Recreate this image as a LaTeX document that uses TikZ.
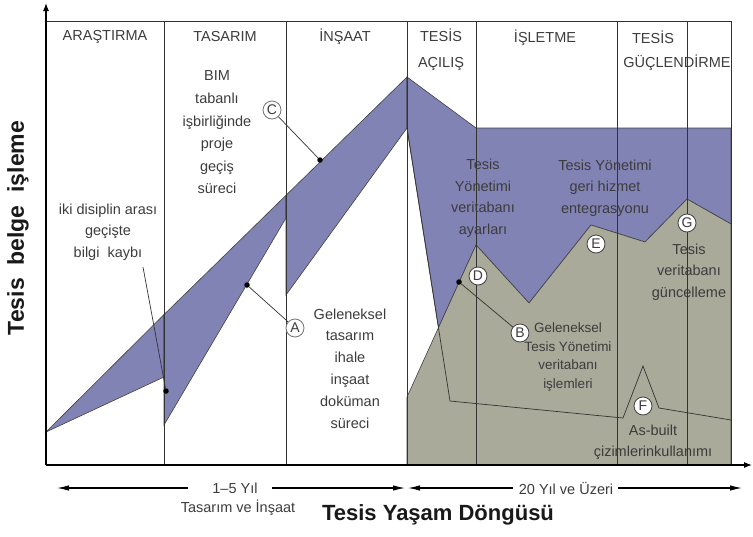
\documentclass[tikz,border=0pt]{standalone}
\usepackage{fontspec}
\setmainfont{Liberation Sans}
\usepackage{tikz}
\usetikzlibrary{arrows.meta, positioning}
\definecolor{lcBand}{HTML}{8283B5}
\definecolor{lcFm}{HTML}{A9AA9A}
\definecolor{lcText}{HTML}{3C3C3C}

\begin{document}
\begin{tikzpicture}[x=1pt, y=-1pt,
  phase/.style={font=\fontsize{14.5}{26}\selectfont, text=lcText, align=center, inner sep=0pt},
  txt/.style={font=\fontsize{14.5}{21.5}\selectfont, text=lcText, align=center, inner sep=0pt},
  tag/.style={circle, draw=black!75, fill=white, line width=0.8pt, inner sep=0pt,
              minimum size=18pt, font=\fontsize{14}{14}\selectfont, text=lcText},
  softtag/.style={tag, draw=black!55},
  dot/.style={circle, fill=black, inner sep=0pt, minimum size=5.5pt},
  lead/.style={draw=black!80, line width=0.7pt},
  band/.style={fill=lcBand, draw=black!75, line width=0.6pt},
  fm/.style={fill=lcFm, draw=black!75, line width=0.6pt},
  grid/.style={draw=black!80, line width=0.9pt},
  axis/.style={-{Latex[length=8pt,width=6pt]}, line width=1.1pt},
  span/.style={-{Latex[length=12pt,width=5.5pt]}, line width=1.1pt}
]
  \useasboundingbox (0,0) rectangle (753,536);

  % information bands
  \path[band] (46,432) -- (164,314.6) -- (164,377) -- cycle;
  \path[band] (164,314.6) -- (286,195.3) -- (286,218) -- (164,425) -- cycle;
  \path[band] (286,195.3) -- (407,77) -- (407,128) -- (286,295) -- cycle;
  \path[band] (407,77) -- (476,128) -- (731,128) -- (731,224) -- (687,199) -- (645,242)
    -- (591,225) -- (529,303) -- (476,245) -- (438.5,327.7) -- (407,128) -- cycle;
  \path[fm] (407,465) -- (407,397) -- (476,245) -- (529,303) -- (591,225) -- (645,242)
    -- (687,199) -- (731,224) -- (731,465) -- cycle;
  \draw[lead] (407,128) -- (450,401) -- (623,418) -- (643,366) -- (659,408) -- (731,420);

  % phase grid
  \draw[grid] (46,21) -- (731,21);
  \foreach \px in {164,286,407,476,617,687,731}
    \draw[grid] (\px,21) -- (\px,465);
  \draw[axis] (46,465) -- (46,3);
  \draw[axis] (46,465) -- (752,465);

  \node[phase] (arastirma) at (105,37) {ARAŞTIRMA};
  \node[phase] (tasarim) at (225,37) {TASARIM};
  \node[phase] (insaat) at (345,37) {İNŞAAT};
  \node[phase] (acilis) at (441,50) {TESİS\\AÇILIŞ};
  \node[phase] (isletme) at (545,38) {İŞLETME};
  \node[phase] (tesisG) at (653,37) {TESİS};
  \node[phase] (guclen) at (677,63) {GÜÇLENDİRME};

  \node[txt] (kayip) at (108,232) {iki disiplin arası\\geçişte\\bilgi\ \ kaybı};
  \node[txt, font=\fontsize{14.5}{22.6}\selectfont] (bim) at (217,132.5)
    {BIM\\tabanlı\\işbirliğinde\\proje\\geçiş\\süreci};
  \node[txt, font=\fontsize{14.5}{21.8}\selectfont] (geleneksel) at (350,368.5)
    {Geleneksel\\tasarım\\ihale\\inşaat\\doküman\\süreci};
  \node[txt] (ayar) at (483,198) {Tesis\\Yönetimi\\veritabanı\\ayarları};
  \node[txt] (entegre) at (605,188) {Tesis Yönetimi\\geri hizmet\\entegrasyonu};
  \node[txt] (guncel) at (689,272) {Tesis\\veritabanı\\güncelleme};
  \node[txt] (asbuilt) at (653,442.5) {As-built\\çizimlerinkullanımı};
  \node[txt, font=\fontsize{13.5}{18.7}\selectfont] (islem) at (568,357)
    {Geleneksel\\Tesis Yönetimi\\veritabanı\\işlemleri};

  \node[dot] (kayipDot) at (166,391) {};
  \node[dot] (aDot) at (247,285) {};
  \node[dot] (cDot) at (320,160) {};
  \node[dot] (bDot) at (459,282) {};
  \coordinate (kayipTail) at (143,267);

  \node[softtag] (tagA) at (295,328) {A};
  \node[softtag] (tagC) at (272,110) {C};
  \node[tag] (tagB) at (520,333) {B};
  \node[tag] (tagD) at (478,276) {D};
  \node[tag] (tagE) at (596,244) {E};
  \node[tag] (tagF) at (643,406) {F};
  \node[tag] (tagG) at (687,223) {G};

  \draw[lead] (kayipTail) -- (kayipDot);
  \draw[lead] (aDot) -- (tagA);
  \draw[lead] (cDot) -- (tagC);
  \draw[lead] (bDot) -- (tagB);

  % time spans
  \node[txt] (kisa) at (235,488) {1–5 Yıl};
  \node[txt] (kisaAlt) at (238,508) {Tasarım ve İnşaat};
  \node[txt] (uzun) at (566,488) {20 Yıl ve Üzeri};
  \coordinate (kisaL) at (188,488);
  \coordinate (kisaR) at (272,488);
  \coordinate (uzunL) at (513,488);
  \coordinate (uzunR) at (618,488);
  \draw[span] (kisaL) -- (57,488);
  \draw[span] (kisaR) -- (405,488);
  \draw[span] (uzunL) -- (408,488);
  \draw[span] (uzunR) -- (742,488);

  \node[font=\fontsize{22}{22}\selectfont\bfseries, text=black!90] (xlabel) at (438,515) {Tesis Yaşam Döngüsü};
  \node[font=\fontsize{23}{23}\selectfont\bfseries, text=black!90, rotate=90] (ylabel) at (18,228)
    {Tesis\ \ belge\ \ işleme};
\end{tikzpicture}
\end{document}
